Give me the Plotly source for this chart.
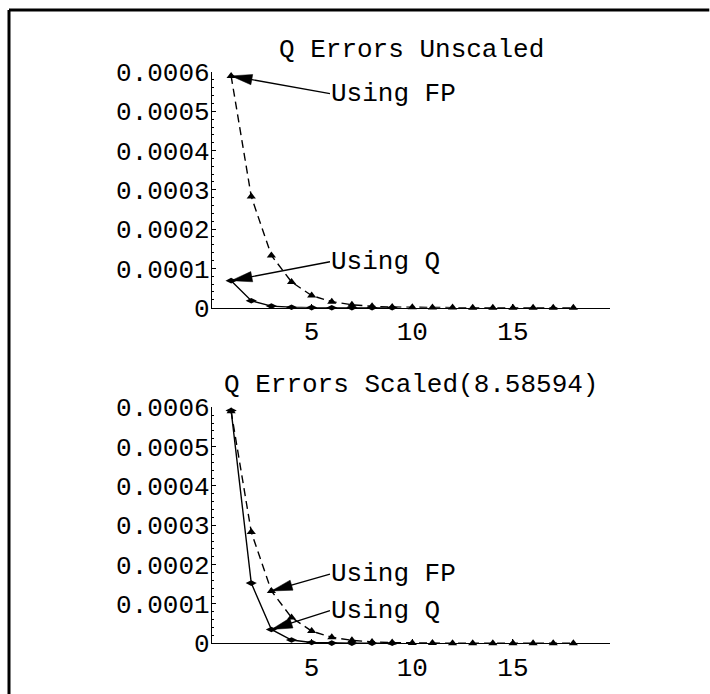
import math
import plotly.graph_objects as go

# Iteration index for each error series
steps_fp = list(range(1, 19))
steps_q = list(range(1, 10))

# Errors from the FP iteration (same in both panels)
err_fp = [0.000590, 0.000283, 0.000133, 0.0000655, 0.0000310, 0.0000153,
          0.0000075, 0.0000036, 0.0000018, 0.0000009, 0.00000045, 0.00000022,
          0.00000011, 0.00000005, 0.00000003, 0.00000001, 0.00000001, 0.0]

# Errors from the Q iteration, unscaled and scaled by 8.58594
err_q_unscaled = [0.0000689, 0.0000178, 0.0000041, 0.0000010, 0.00000025,
                  0.00000006, 0.00000002, 0.0, 0.0]
err_q_scaled = [0.000592, 0.000153, 0.0000352, 0.0000084, 0.0000021,
                0.0000005, 0.00000013, 0.00000003, 0.0]

panel_titles = ["Q Errors Unscaled", "Q Errors Scaled(8.58594)"]
y_tickvals = [0, 0.0001, 0.0002, 0.0003, 0.0004, 0.0005, 0.0006]
y_ticktext = ["0", "0.0001", "0.0002", "0.0003", "0.0004", "0.0005", "0.0006"]
x_tickvals = [5, 10, 15]

FONT = "Liberation Mono, Courier New, monospace"
FS = 26
W, H = 710, 694

X_RANGE = [0.05, 19.82]
Y_RANGE = [0, 0.0006]
X_PX = (212, 610)
TOP_PX = (72, 307.7)
BOT_PX = (407.3, 643.3)

x_dom = [X_PX[0] / W, X_PX[1] / W]
top_dom = [(H - TOP_PX[1]) / H, (H - TOP_PX[0]) / H]
bot_dom = [(H - BOT_PX[1]) / H, (H - BOT_PX[0]) / H]

# pixels per data unit, used to shape the arrowheads
KX = (X_PX[1] - X_PX[0]) / (X_RANGE[1] - X_RANGE[0])
KY = (TOP_PX[1] - TOP_PX[0]) / (Y_RANGE[1] - Y_RANGE[0])

fig = go.Figure()

def add_panel(xa, ya, q_vals):
    fig.add_trace(go.Scatter(
        x=steps_fp, y=err_fp, xaxis=xa, yaxis=ya, mode="lines+markers",
        line=dict(color="black", width=1.4, dash="8px,5px"),
        marker=dict(symbol="triangle-up", size=8, color="black"),
        cliponaxis=False, showlegend=False))
    fig.add_trace(go.Scatter(
        x=steps_q, y=q_vals, xaxis=xa, yaxis=ya, mode="lines+markers",
        line=dict(color="black", width=1.4),
        marker=dict(symbol="diamond-wide", size=8, color="black"),
        cliponaxis=False, showlegend=False))

add_panel("x", "y", err_q_unscaled)
add_panel("x2", "y2", err_q_scaled)

xaxis_style = dict(
    range=X_RANGE, showgrid=False, zeroline=False, showline=True,
    linecolor="black", linewidth=1.2, ticks="inside", ticklen=4,
    tickcolor="black", tickvals=x_tickvals, ticktext=[str(v) for v in x_tickvals],
    tickfont=dict(family=FONT, size=FS, color="black"), domain=x_dom,
    automargin=False,
)
yaxis_style = dict(
    range=Y_RANGE, showgrid=False, zeroline=False, showline=True,
    linecolor="black", linewidth=1.2, ticks="inside", ticklen=4,
    tickcolor="black", tickvals=y_tickvals, ticktext=y_ticktext,
    tickfont=dict(family=FONT, size=FS, color="black"),
    minor=dict(ticks="inside", ticklen=2, dtick=0.00002, tick0=0,
               tickcolor="black", showgrid=False),
    ticklabelstandoff=-4, automargin=False,
)

fig.update_layout(
    width=W, height=H, margin=dict(l=0, r=0, t=0, b=0),
    paper_bgcolor="white", plot_bgcolor="white",
    xaxis=dict(xaxis_style, anchor="y"),
    yaxis=dict(yaxis_style, domain=top_dom, anchor="x"),
    xaxis2=dict(xaxis_style, anchor="y2"),
    yaxis2=dict(yaxis_style, domain=bot_dom, anchor="x2"),
)

# Panel titles
for title, ty in zip(panel_titles, [50, 385]):
    fig.add_annotation(text=title, xref="paper", yref="paper",
                       x=411 / W, y=1 - ty / H, xanchor="center", yanchor="middle",
                       showarrow=False, font=dict(family=FONT, size=FS, color="black"))

# Labelled arrows pointing at the curves, with a long narrow filled head
HEAD_LEN, HEAD_HALF = 21, 5.2

def label_arrow(text, xa, ya, step, value, tail_x, tail_y):
    fig.add_annotation(
        text=text, x=step, y=value, xref=xa, yref=ya,
        ax=tail_x, ay=tail_y, axref=xa, ayref=ya,
        xanchor="left", yanchor="middle", showarrow=True,
        arrowhead=0, arrowwidth=1.3, arrowcolor="black",
        borderpad=0, font=dict(family=FONT, size=FS, color="black"))
    dx = (tail_x - step) * KX
    dy = (tail_y - value) * KY
    length = math.hypot(dx, dy)
    ux, uy = dx / length, dy / length
    px, py = -uy, ux
    bx, by = ux * HEAD_LEN, uy * HEAD_LEN
    corners = [(0, 0), (bx + px * HEAD_HALF, by + py * HEAD_HALF),
               (bx - px * HEAD_HALF, by - py * HEAD_HALF), (0, 0)]
    fig.add_trace(go.Scatter(
        x=[step + cx / KX for cx, _ in corners],
        y=[value + cy / KY for _, cy in corners],
        xaxis=xa, yaxis=ya, mode="lines", fill="toself",
        fillcolor="black", line=dict(color="black", width=0.5),
        cliponaxis=False, hoverinfo="skip", showlegend=False))

label_arrow("Using FP", "x", "y", steps_fp[0], err_fp[0], 5.91, 0.000545)
label_arrow("Using Q", "x", "y", steps_q[0], err_q_unscaled[0], 5.91, 0.000117)
label_arrow("Using FP", "x2", "y2", steps_fp[2], err_fp[2], 5.91, 0.000176)
label_arrow("Using Q", "x2", "y2", steps_q[2], err_q_scaled[2], 5.91, 0.000083)

# Frame edges around the figure (left and top)
frame = dict(color="black", width=3)
fig.add_shape(type="line", xref="paper", yref="paper",
              x0=9 / W, y0=0, x1=9 / W, y1=1 - 10 / H, line=frame)
fig.add_shape(type="line", xref="paper", yref="paper",
              x0=9 / W, y0=1 - 10 / H, x1=0.999, y1=1 - 10 / H, line=frame)

fig.write_html("out.html")
